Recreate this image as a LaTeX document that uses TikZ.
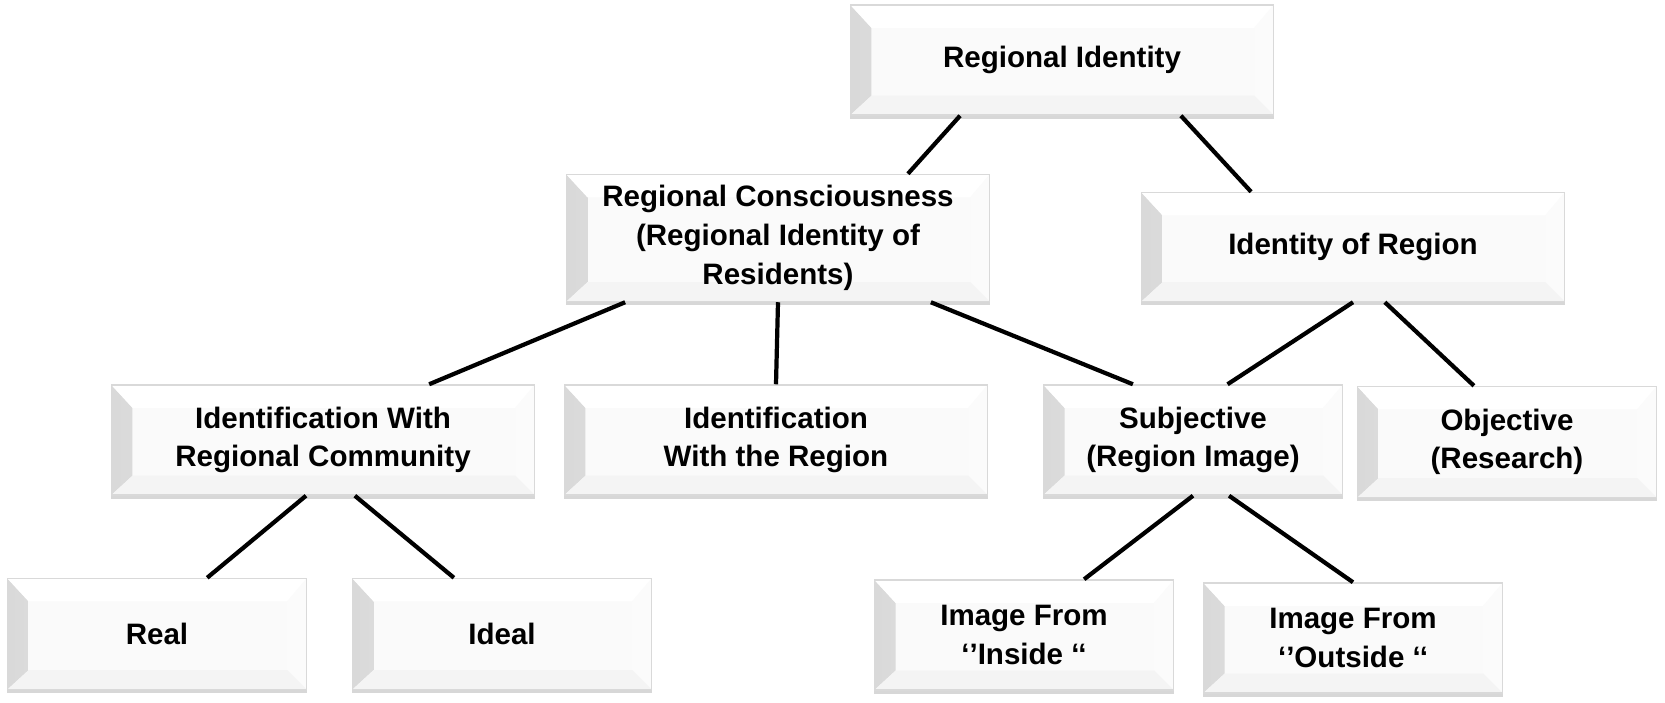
\documentclass[tikz,border=0pt]{standalone}
\usepackage{fontspec}
\setmainfont{Liberation Sans}
\usetikzlibrary{positioning, shadows, calc}

\begin{document}
\begin{tikzpicture}[
    x=0.01cm, y=-0.01cm,
    box/.style={
        rectangle,
        draw=gray!30,
        line width=0.4pt,
        fill=gray!4,
        minimum width=4.23cm,
        minimum height=1.1cm,
        inner sep=0pt,
        align=center,
        font=\fontsize{8.4}{11}\selectfont\bfseries,
        drop shadow={shadow xshift=0pt, shadow yshift=-1.1pt, opacity=0.45, fill=gray!70},
        path picture={
            \shade[left color=gray!30, right color=gray!4]
                (path picture bounding box.south west) -- (path picture bounding box.north west)
                -- ([shift={(6pt,-6.5pt)}]path picture bounding box.north west)
                -- ([shift={(6pt,5.5pt)}]path picture bounding box.south west) -- cycle;
            \fill[white]
                (path picture bounding box.north west) -- (path picture bounding box.north east)
                -- ([shift={(-5.5pt,-6.5pt)}]path picture bounding box.north east)
                -- ([shift={(6pt,-6.5pt)}]path picture bounding box.north west) -- cycle;
            \fill[gray!3]
                (path picture bounding box.north east) -- (path picture bounding box.south east)
                -- ([shift={(-5.5pt,5.5pt)}]path picture bounding box.south east)
                -- ([shift={(-5.5pt,-6.5pt)}]path picture bounding box.north east) -- cycle;
            \fill[gray!9]
                (path picture bounding box.south west) -- (path picture bounding box.south east)
                -- ([shift={(-5.5pt,5.5pt)}]path picture bounding box.south east)
                -- ([shift={(6pt,5.5pt)}]path picture bounding box.south west) -- cycle;
        }
    },
    small/.style={box, minimum width=2.99cm, minimum height=1.11cm},
    link/.style={line width=1.2pt, black}
]
\useasboundingbox (0,0) rectangle (1665,703);

% === Top ===
\node[box] (ri) at (1062, 60) {Regional Identity};

% === Second row ===
\node[box, minimum height=1.27cm] (rc) at (778, 238)
    {Regional Consciousness\\(Regional Identity of\\Residents)};
\node[box, minimum height=1.09cm] (ior) at (1353, 247) {Identity of Region};

% === Third row ===
\node[box] (irc) at (323, 440) {Identification With\\Regional Community};
\node[box] (iwr) at (776, 440) {Identification\\With the Region};
\node[small, minimum height=1.1cm] (subj) at (1193, 440) {Subjective\\(Region Image)};
\node[small] (obj) at (1507, 442) {Objective\\(Research)};

% === Bottom row ===
\node[small] (real) at (157, 634) {Real};
\node[small] (ideal) at (502, 634) {Ideal};
\node[small, minimum height=1.1cm] (inside) at (1024, 635) {Image From\\‘’Inside ‘‘};
\node[small, minimum height=1.1cm] (outside) at (1353, 638) {Image From\\‘’Outside ‘‘};

% Links
\draw[link] ($(ri.south west)!0.26!(ri.south east)$) -- ($(rc.north west)!0.806!(rc.north east)$);
\draw[link] ($(ri.south west)!0.78!(ri.south east)$) -- ($(ior.north west)!0.26!(ior.north east)$);
\draw[link] ($(rc.south west)!0.14!(rc.south east)$) -- ($(irc.north west)!0.75!(irc.north east)$);
\draw[link] ($(rc.south west)!0.5!(rc.south east)$) -- ($(iwr.north west)!0.5!(iwr.north east)$);
\draw[link] ($(rc.south west)!0.86!(rc.south east)$) -- ($(subj.north west)!0.3!(subj.north east)$);
\draw[link] ($(ior.south west)!0.5!(ior.south east)$) -- ($(subj.north west)!0.615!(subj.north east)$);
\draw[link] ($(ior.south west)!0.575!(ior.south east)$) -- ($(obj.north west)!0.39!(obj.north east)$);
\draw[link] ($(irc.south west)!0.46!(irc.south east)$) -- ($(real.north west)!0.667!(real.north east)$);
\draw[link] ($(irc.south west)!0.575!(irc.south east)$) -- ($(ideal.north west)!0.34!(ideal.north east)$);
\draw[link] ($(subj.south west)!0.5!(subj.south east)$) -- ($(inside.north west)!0.7!(inside.north east)$);
\draw[link] ($(subj.south west)!0.62!(subj.south east)$) -- ($(outside.north west)!0.5!(outside.north east)$);

\end{tikzpicture}
\end{document}
